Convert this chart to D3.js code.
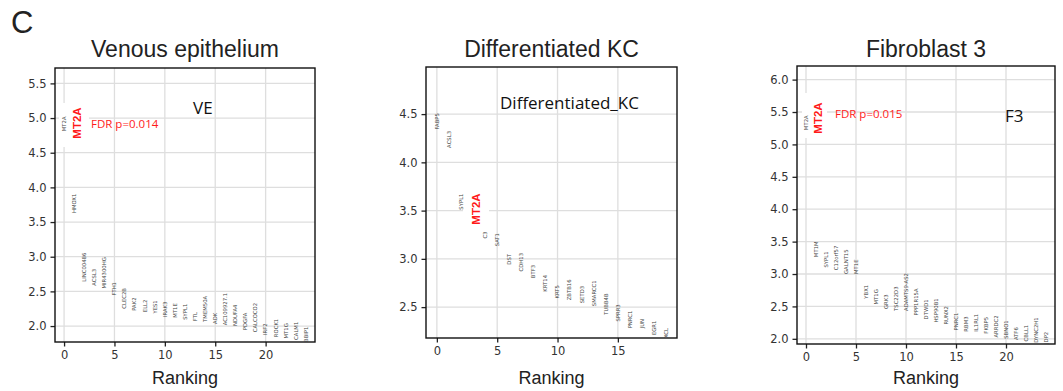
<!DOCTYPE html>
<html>
<head>
<meta charset="utf-8">
<script src="https://cdn.jsdelivr.net/npm/d3@7"></script>
<style>
  body { margin: 0; background: #fff; }
</style>
</head>
<body>
<div id="chart"></div>
<script>
// ranked genes per cell type (scanpy rank_genes_groups style)
const veGenes = ["MT2A", "HMOX1", "LINC00486", "ACSL3", "MIR4300HG", "FTH1", "CLEC2B", "PAK2", "ELL2", "YES1",
  "IRAK3", "MT1E", "SYPL1", "FTL", "TMEM50A", "ADK", "AC109927.1", "NDUFA4", "PDGFA", "CALCOCO2",
  "IRF2", "ROCK1", "MT1G", "CALM1", "BBIP1"];
const veScores = [4.81, 3.63, 2.64, 2.58, 2.54, 2.44, 2.25, 2.22, 2.20, 2.18,
  2.13, 2.12, 2.09, 2.07, 2.06, 2.03, 2.01, 2.00, 1.94, 1.91,
  1.87, 1.84, 1.82, 1.80, 1.77];

const kcGenes = ["FABP5", "ACSL3", "SYPL1", "MT2A", "C3", "SAT1", "DST", "CDH13", "BTF3", "KRT14",
  "KRT5", "ZBTB16", "SETD3", "SMARCC1", "TUBB4B", "SPRR3", "PNRC1", "JUN", "EGR1", "XCL"];
const kcScores = [4.34, 4.15, 3.51, 3.36, 3.21, 3.13, 2.94, 2.87, 2.80, 2.66,
  2.59, 2.57, 2.54, 2.51, 2.42, 2.35, 2.28, 2.28, 2.21, 2.18];

const f3Genes = ["MT2A", "MT1M", "SYPL1", "C12orf57", "GALNT15", "MT1E", "YBX1", "MT1G", "GRK3", "TSC22D3",
  "ADAMTS9-AS2", "PPP1R15A", "DTWD1", "HSP90B1", "RUNX2", "PNRC1", "RBM3", "IL1RL1", "FKBP5", "ARRDC2",
  "SBNO1", "ATF6", "CBLL1", "DYNC2H1", "JDP2"];
const f3Scores = [5.22, 3.26, 3.10, 3.06, 3.00, 3.00, 2.62, 2.53, 2.46, 2.43,
  2.43, 2.36, 2.30, 2.25, 2.22, 2.13, 2.11, 2.11, 2.08, 2.02,
  2.00, 1.98, 1.96, 1.94, 1.92];

const veYTicks = [2.0, 2.5, 3.0, 3.5, 4.0, 4.5, 5.0, 5.5];
const kcYTicks = [2.5, 3.0, 3.5, 4.0, 4.5];
const f3YTicks = [2.0, 2.5, 3.0, 3.5, 4.0, 4.5, 5.0, 5.5, 6.0];
const xTicks = [0, 5, 10, 15, 20];

const titles = ["Venous epithelium", "Differentiated KC", "Fibroblast 3"];

const W = 1063, H = 391;
const sansFont = "'Liberation Sans', Arial, sans-serif";
const mplFont = "'DejaVu Sans', sans-serif";
const boxFont = "'Open Sans', sans-serif";
const red = "#ff1a1a";

const svg = d3.select("#chart").append("svg")
  .attr("width", W)
  .attr("height", H);

svg.append("text")
  .attr("x", 11)
  .attr("y", 33)
  .text("C")
  .style("font-family", sansFont)
  .style("font-size", "31px")
  .style("fill", "#222");

function drawPanel(p) {
  const n = p.genes.length;
  const ymin = d3.min(p.scores), ymax = d3.max(p.scores);

  const x = d3.scaleLinear()
    .domain([-0.9, n - 0.1])
    .range([p.left, p.right]);
  const y = d3.scaleLinear()
    .domain([ymin, ymax + 0.3 * (ymax - ymin)])
    .range([p.bottom, p.top]);

  const g = svg.append("g");
  const xt = xTicks.filter(t => t <= n - 0.1);

  // grid
  g.selectAll(".gx").data(xt).enter().append("line")
    .attr("x1", d => x(d)).attr("x2", d => x(d))
    .attr("y1", p.top).attr("y2", p.bottom)
    .style("stroke", "#dedede").style("stroke-width", 1.3);
  g.selectAll(".gy").data(p.yTicks).enter().append("line")
    .attr("x1", p.left).attr("x2", p.right)
    .attr("y1", d => y(d)).attr("y2", d => y(d))
    .style("stroke", "#dedede").style("stroke-width", 1.3);

  // white patches under the pasted annotations
  p.patches.forEach(r => {
    g.append("rect")
      .attr("x", r[0]).attr("y", r[1]).attr("width", r[2]).attr("height", r[3])
      .style("fill", "#fff");
  });

  // axes
  const ax = g.append("g")
    .attr("transform", `translate(0,${p.bottom})`)
    .call(d3.axisBottom(x).tickValues(xt).tickFormat(d3.format("d")).tickSize(4.5).tickPadding(4));
  const ay = g.append("g")
    .attr("transform", `translate(${p.left},0)`)
    .call(d3.axisLeft(y).tickValues(p.yTicks).tickFormat(d3.format(".1f")).tickSize(4.5).tickPadding(4));
  [ax, ay].forEach(a => {
    a.select(".domain").remove();
    a.selectAll("line").style("stroke", "#222").style("stroke-width", 1.3);
    a.selectAll("text").style("font-family", mplFont).style("font-size", "11.5px").style("fill", "#333");
  });

  g.append("rect")
    .attr("x", p.left).attr("y", p.top)
    .attr("width", p.right - p.left).attr("height", p.bottom - p.top)
    .style("fill", "none").style("stroke", "#111").style("stroke-width", 1.4);

  // gene names, vertical, bottom at score
  g.selectAll(".gene").data(p.genes).enter().append("text")
    .attr("transform", (d, i) => `translate(${x(i)},${y(p.scores[i])}) rotate(-90)`)
    .attr("dy", "0.35em")
    .text(d => d)
    .style("display", (d, i) => i === p.hide ? "none" : null)
    .style("font-family", mplFont)
    .style("font-size", "5.3px")
    .style("fill", "#444");

  // title and axis label
  const cx = (p.left + p.right) / 2;
  g.append("text")
    .attr("x", cx).attr("y", 57)
    .attr("text-anchor", "middle")
    .text(p.title)
    .style("font-family", sansFont).style("font-size", "23px").style("fill", "#222");
  g.append("text")
    .attr("x", cx).attr("y", 384)
    .attr("text-anchor", "middle")
    .text("Ranking")
    .style("font-family", sansFont).style("font-size", "18px").style("fill", "#222");

  // annotations
  g.append("text")
    .attr("transform", `translate(${p.red[0]},${p.red[1]}) rotate(-90)`)
    .attr("text-anchor", "middle")
    .attr("dy", "0.35em")
    .text("MT2A")
    .style("font-family", sansFont).style("font-size", "11.5px").style("font-weight", "bold")
    .style("fill", red);
  if (p.fdr) {
    g.append("text")
      .attr("x", p.fdr[0]).attr("y", p.fdr[1])
      .attr("dy", "0.35em")
      .text(p.fdr[2])
      .style("font-family", boxFont).style("font-size", "11.5px").style("fill", red);
  }
  g.append("text")
    .attr("x", p.tag[0]).attr("y", p.tag[1])
    .attr("dy", "0.35em")
    .text(p.tag[2])
    .style("font-family", boxFont).style("font-size", "17px").style("fill", "#111");
}

drawPanel({
  title: titles[0], genes: veGenes, scores: veScores, yTicks: veYTicks,
  left: 55, right: 315, top: 68, bottom: 342,
  hide: -1,
  patches: [[59, 103, 30, 44]],
  red: [77, 123], fdr: [91, 124, "FDR p=0.014"], tag: [193, 108, "VE"]
});
drawPanel({
  title: titles[1], genes: kcGenes, scores: kcScores, yTicks: kcYTicks,
  left: 426, right: 677, top: 67, bottom: 338,
  hide: 3,
  patches: [[463, 190, 26, 38]],
  red: [476, 209], fdr: null, tag: [500, 103, "Differentiated_KC"]
});
drawPanel({
  title: titles[2], genes: f3Genes, scores: f3Scores, yTicks: f3YTicks,
  left: 797, right: 1055, top: 66, bottom: 344,
  hide: -1,
  patches: [[802, 93, 25, 45]],
  red: [818, 118], fdr: [835, 114, "FDR p=0.015"], tag: [1005, 116, "F3"]
});
</script>
</body>
</html>
